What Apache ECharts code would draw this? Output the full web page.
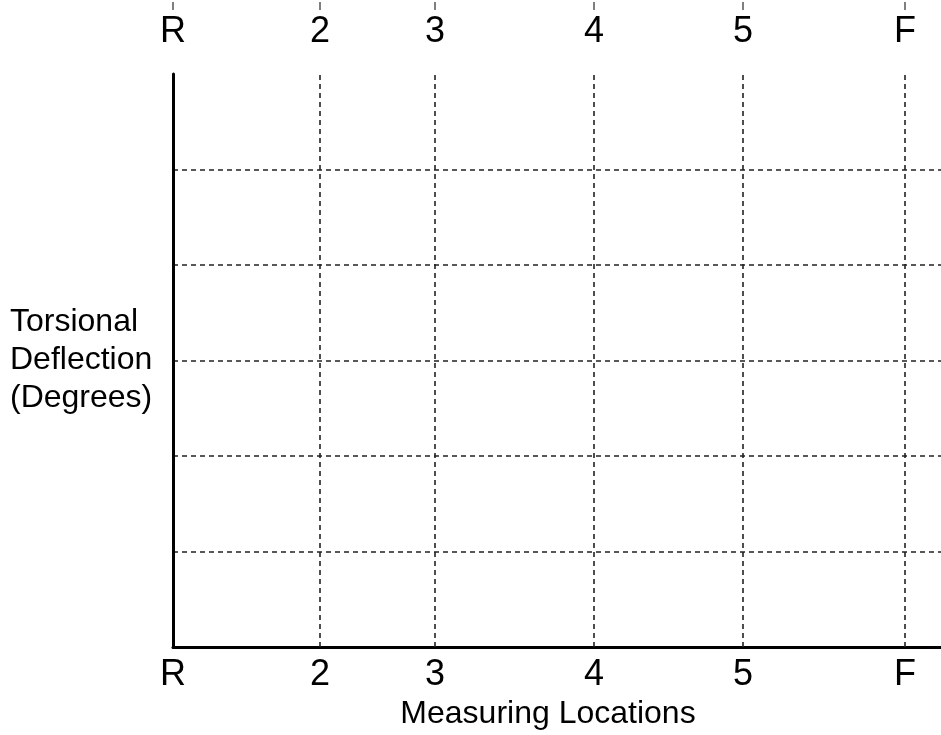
<!DOCTYPE html>
<html>
<head>
<meta charset="utf-8">
<script src="https://cdn.jsdelivr.net/npm/echarts@6/dist/echarts.min.js"></script>
<style>
html,body{margin:0;padding:0;background:#fff;}
#chart{width:941px;height:735px;}
</style>
</head>
<body>
<div id="chart"></div>
<script>
// Measuring locations along the frame (relative positions)
var locationNames = ['R', '2', '3', '4', '5', 'F'];
var locationPositions = [0, 147, 262, 421, 570, 732];
var axisLength = 768;
// Torsional deflection grid divisions (blank chart)
var yMin = 0, yMax = 6, yStep = 1;
var deflectionValues = [];

function nameAt(v) {
  var i = locationPositions.indexOf(v);
  return i >= 0 ? locationNames[i] : '';
}

var dashStyle = { color: '#222', width: 1.6, type: [5, 4] };
var fontFam = '"Liberation Sans", Arial, Helvetica, sans-serif';

var chart = echarts.init(document.getElementById('chart'));
chart.setOption({
  animation: false,
  backgroundColor: '#fff',
  grid: { left: 173, right: 0, top: 74, bottom: 86, containLabel: false },
  xAxis: [{
    type: 'value', position: 'bottom', min: 0, max: axisLength,
    axisLine: { show: true, lineStyle: { color: '#000', width: 3 } },
    axisTick: { show: false },
    splitLine: { show: false },
    axisLabel: {
      customValues: locationPositions, formatter: function (v) { return nameAt(v); },
      fontSize: 36, color: '#000', fontFamily: fontFam, margin: 10
    },
    name: 'Measuring Locations', nameLocation: 'middle', nameGap: 51,
    nameTextStyle: { fontSize: 32, color: '#000', fontFamily: fontFam, padding: [0, 18, 0, 0] }
  }, {
    type: 'value', position: 'top', min: 0, max: axisLength, offset: 64,
    axisLine: { show: false },
    axisTick: { show: true, customValues: locationPositions, length: 8, inside: false,
      lineStyle: { color: '#555', width: 1.5 } },
    splitLine: { show: false },
    axisLabel: {
      customValues: locationPositions, formatter: function (v) { return nameAt(v); },
      inside: true, fontSize: 36, color: '#000', fontFamily: fontFam, margin: 4
    }
  }],
  yAxis: {
    type: 'value', min: yMin, max: yMax, interval: yStep,
    axisLine: { show: true, lineStyle: { color: '#000', width: 3 } },
    axisTick: { show: false },
    axisLabel: { show: false },
    splitLine: { show: true, showMinLine: false, showMaxLine: false, lineStyle: dashStyle },
    name: 'Torsional\nDeflection\n(Degrees)', nameLocation: 'middle', nameRotate: 0, nameGap: 163,
    nameTextStyle: { fontSize: 32, lineHeight: 38, color: '#000', fontFamily: fontFam,
      align: 'left', verticalAlign: 'middle', padding: [0, 0, 12, 0] }
  },
  series: [{
    type: 'line', data: deflectionValues, xAxisIndex: 0, yAxisIndex: 0,
    silent: true,
    markLine: {
      silent: true, symbol: ['none', 'none'], label: { show: false },
      lineStyle: dashStyle, emphasis: { disabled: true },
      data: locationPositions.filter(function (p) { return p > 0; }).map(function (p) { return { xAxis: p }; })
    }
  }]
});
</script>
</body>
</html>
